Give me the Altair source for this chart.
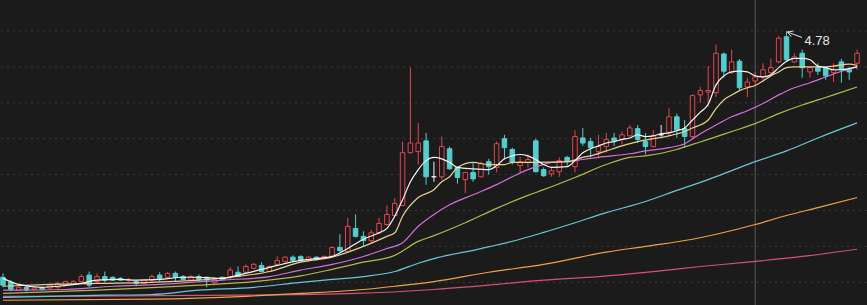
import altair as alt
import pandas as pd

# ---------------- data ----------------
open_ = [1.35, 1.28, 1.17, 1.21, 1.18, 1.20, 1.20, 1.21, 1.24, 1.25,
         1.29, 1.38, 1.29, 1.36, 1.35, 1.335, 1.31, 1.29, 1.265, 1.31,
         1.38, 1.35, 1.405, 1.36, 1.31, 1.36, 1.35, 1.28, 1.35, 1.35,
         1.42, 1.42, 1.475, 1.515, 1.43, 1.53, 1.57, 1.63, 1.64, 1.585,
         1.63, 1.61, 1.64, 1.765, 1.71, 2.03, 1.92, 1.86, 1.97, 2.085,
         2.21, 2.35, 3.085, 3.10, 3.25, 2.75, 2.75, 3.14, 2.88, 2.71,
         2.81, 2.75, 2.96, 2.88, 3.28, 3.13, 2.905, 2.95, 3.25, 2.85,
         2.79, 2.82, 3.02, 2.89, 3.29, 3.24, 3.10, 3.17, 3.29, 3.27,
         3.32, 3.42, 3.24, 3.17, 3.335, 3.37, 3.585, 3.42, 3.31, 3.89,
         3.93, 3.92, 4.46, 4.21, 4.36, 4.00, 4.085, 4.14, 4.20, 4.35,
         4.70, 4.35, 4.47, 4.21, 4.27, 4.27, 4.20, 4.35, 4.24, 4.33]
high = [1.405, 1.31, 1.22, 1.24, 1.21, 1.21, 1.25, 1.29, 1.30, 1.31,
        1.39, 1.43, 1.405, 1.43, 1.36, 1.35, 1.34, 1.31, 1.32, 1.39,
        1.42, 1.42, 1.43, 1.38, 1.38, 1.39, 1.36, 1.35, 1.36, 1.49,
        1.50, 1.53, 1.55, 1.56, 1.515, 1.64, 1.64, 1.655, 1.655, 1.64,
        1.64, 1.655, 1.78, 1.95, 2.18, 2.225, 1.99, 2.01, 2.18, 2.35,
        2.45, 3.24, 4.27, 3.50, 3.36, 2.96, 3.31, 3.17, 2.89, 2.82,
        2.95, 2.96, 3.00, 3.24, 3.335, 3.155, 3.03, 3.06, 3.28, 2.88,
        2.88, 3.02, 3.04, 3.40, 3.43, 3.29, 3.335, 3.36, 3.36, 3.38,
        3.47, 3.47, 3.36, 3.40, 3.47, 3.71, 3.63, 3.54, 3.90, 4.00,
        4.29, 4.59, 4.48, 4.52, 4.39, 4.13, 4.21, 4.33, 4.40, 4.71,
        4.78, 4.47, 4.52, 4.28, 4.33, 4.28, 4.33, 4.39, 4.28, 4.52]
low = [1.21, 1.155, 1.16, 1.15, 1.17, 1.17, 1.19, 1.18, 1.23, 1.24,
       1.28, 1.21, 1.265, 1.28, 1.30, 1.30, 1.29, 1.225, 1.25, 1.28,
       1.29, 1.34, 1.29, 1.31, 1.30, 1.29, 1.21, 1.24, 1.31, 1.32,
       1.35, 1.39, 1.46, 1.42, 1.42, 1.515, 1.56, 1.56, 1.56, 1.57,
       1.585, 1.60, 1.63, 1.70, 1.70, 1.905, 1.78, 1.83, 1.95, 2.07,
       2.20, 2.34, 3.07, 2.92, 2.64, 2.68, 2.71, 2.85, 2.655, 2.52,
       2.68, 2.74, 2.78, 2.81, 2.99, 2.92, 2.81, 2.88, 2.81, 2.75,
       2.75, 2.75, 2.905, 2.81, 3.18, 3.02, 3.02, 3.085, 3.18, 3.20,
       3.31, 3.22, 3.06, 3.16, 3.31, 3.32, 3.29, 3.155, 3.29, 3.78,
       3.72, 3.86, 4.13, 4.18, 3.96, 3.86, 4.03, 4.07, 4.17, 4.33,
       4.35, 4.33, 4.13, 4.13, 4.17, 4.10, 4.07, 4.06, 4.10, 4.24]
close = [1.24, 1.18, 1.21, 1.17, 1.20, 1.18, 1.24, 1.265, 1.29, 1.29,
         1.36, 1.24, 1.36, 1.31, 1.31, 1.31, 1.32, 1.265, 1.31, 1.36,
         1.335, 1.405, 1.35, 1.32, 1.36, 1.32, 1.31, 1.32, 1.32, 1.45,
         1.36, 1.50, 1.53, 1.43, 1.50, 1.585, 1.63, 1.585, 1.585, 1.63,
         1.60, 1.64, 1.765, 1.72, 2.06, 1.92, 1.86, 1.97, 2.10, 2.225,
         2.38, 3.085, 3.22, 3.22, 2.75, 2.75, 3.17, 2.86, 2.74, 2.81,
         2.72, 2.93, 2.89, 3.21, 3.155, 2.95, 2.96, 2.99, 2.82, 2.765,
         2.835, 2.975, 2.96, 3.31, 3.22, 3.155, 3.17, 3.27, 3.25, 3.335,
         3.43, 3.27, 3.17, 3.32, 3.335, 3.585, 3.40, 3.31, 3.88, 3.95,
         3.95, 4.47, 4.22, 4.35, 3.99, 4.07, 4.14, 4.24, 4.27, 4.68,
         4.38, 4.42, 4.27, 4.27, 4.22, 4.155, 4.24, 4.24, 4.21, 4.47]

ma5_i = [0, 2, 5, 7, 10, 12, 15, 17, 20, 23, 25, 28, 30, 33, 35, 38, 40, 42, 44, 46,
         48, 49, 50, 51, 52, 53, 54, 55, 56, 57, 58, 60, 62, 63, 64, 65, 66, 67, 68, 69,
         70, 72, 73, 74, 75, 76, 77, 78, 79, 80, 81, 82, 83, 84, 85, 86, 87, 88, 89, 90,
         91, 92, 93, 94, 95, 96, 97, 98, 99, 100, 101, 102, 103, 104, 105, 106, 107, 108, 109]
ma5_v = [1.335, 1.25, 1.21, 1.225, 1.265, 1.31, 1.32, 1.31, 1.32, 1.35,
         1.35, 1.335, 1.38, 1.46, 1.515, 1.585, 1.61, 1.64, 1.75, 1.88,
         1.97, 2.03, 2.20, 2.43, 2.68, 2.85, 2.975, 3.02, 3.00, 2.95,
         2.88, 2.86, 2.85, 2.905, 3.00, 3.04, 3.06, 3.04, 2.99, 2.92,
         2.88, 2.89, 2.975, 3.085, 3.14, 3.18, 3.22, 3.24, 3.27, 3.29,
         3.335, 3.31, 3.32, 3.35, 3.36, 3.39, 3.43, 3.54, 3.65, 3.76,
         4.03, 4.155, 4.21, 4.22, 4.21, 4.155, 4.14, 4.17, 4.27, 4.36,
         4.40, 4.40, 4.38, 4.29, 4.27, 4.24, 4.24, 4.255, 4.28]

ma10_i = [0, 6, 12, 19, 25, 29, 34, 38, 42, 46, 49, 50, 51, 53, 55, 56, 57, 58, 60, 62,
          64, 65, 68, 72, 74, 75, 77, 79, 81, 83, 85, 87, 88, 90, 91, 92, 93, 94, 95, 96,
          97, 98, 99, 100, 101, 103, 105, 106, 108, 109]
ma10_v = [1.225, 1.25, 1.265, 1.28, 1.31, 1.35, 1.43, 1.56, 1.63, 1.78,
          1.92, 1.97, 2.20, 2.46, 2.57, 2.68, 2.75, 2.88, 2.95, 2.92,
          2.92, 2.95, 2.95, 2.96, 3.02, 3.04, 3.11, 3.18, 3.24, 3.28,
          3.32, 3.38, 3.43, 3.54, 3.70, 3.82, 3.89, 3.95, 3.99, 4.02,
          4.085, 4.155, 4.21, 4.27, 4.28, 4.28, 4.28, 4.29, 4.32, 4.30]

ma20_i = [0, 8, 14, 20, 28, 34, 38, 42, 46, 49, 51, 53, 55, 57, 60, 63, 65, 67, 69, 70,
          72, 74, 76, 80, 82, 85, 87, 89, 91, 93, 95, 97, 99, 101, 103, 105, 107, 109]
ma20_v = [1.17, 1.18, 1.225, 1.25, 1.31, 1.36, 1.45, 1.53, 1.64, 1.75,
          1.83, 2.06, 2.225, 2.36, 2.50, 2.64, 2.75, 2.85, 2.92, 2.95,
          2.96, 2.99, 3.02, 3.07, 3.11, 3.155, 3.21, 3.35, 3.47, 3.585,
          3.67, 3.77, 3.89, 3.99, 4.06, 4.14, 4.22, 4.28]

ma30_i = [0, 12, 25, 32, 38, 42, 46, 50, 53, 55, 59, 63, 67, 69, 73, 77, 80, 82, 86, 88,
          90, 93, 96, 99, 102, 104, 106, 109]
ma30_v = [1.125, 1.17, 1.24, 1.29, 1.37, 1.46, 1.56, 1.655, 1.85, 1.93,
          2.11, 2.31, 2.49, 2.57, 2.74, 2.92, 3.02, 3.04, 3.13, 3.20,
          3.27, 3.38, 3.49, 3.63, 3.75, 3.82, 3.89, 4.00]

ma60_i = [0, 13, 19, 25, 32, 38, 42, 46, 50, 53, 55, 61, 66, 69, 73, 77, 82, 86, 90, 93,
          96, 100, 104, 109]
ma60_v = [1.07, 1.10, 1.11, 1.17, 1.21, 1.28, 1.32, 1.36, 1.43, 1.545,
          1.61, 1.75, 1.88, 1.975, 2.11, 2.25, 2.405, 2.56, 2.71, 2.835,
          2.96, 3.11, 3.29, 3.50]

ma120_i = [0, 19, 31, 38, 46, 50, 55, 62, 69, 77, 82, 88, 96, 100, 104, 109]
ma120_v = [1.03, 1.045, 1.085, 1.125, 1.18, 1.225, 1.29, 1.42, 1.53, 1.70,
           1.78, 1.88, 2.085, 2.21, 2.32, 2.46]

ma250_i = [0, 30, 45, 55, 62, 69, 76, 83, 89, 95, 102, 109]
ma250_v = [1.085, 1.10, 1.125, 1.18, 1.24, 1.31, 1.36, 1.43, 1.50, 1.56, 1.64, 1.74]

grid_levels = [4.78, 4.28, 3.78, 3.28, 2.78, 2.28, 1.78, 1.28]
crosshair_idx = [96]
peak_idx = 100
peak_val = 4.78
peak_label = "4.78"

# ---------------- styling ----------------
W, H = 867, 305
BG = "#1b1b1b"
RED = "#e0474f"
CYAN = "#55cdcd"
WHITE = "#f2f2f2"
X_DOM = [-0.38, 110.27]
Y_DOM = [0.9638, 5.2118]
px_x = W / (X_DOM[1] - X_DOM[0])
px_y = H / (Y_DOM[1] - Y_DOM[0])

xs = alt.Scale(domain=X_DOM, nice=False, zero=False)
ys = alt.Scale(domain=Y_DOM, nice=False, zero=False)

n = len(close)
cdf = pd.DataFrame({"i": list(range(n)), "open": open_, "high": high,
                    "low": low, "close": close})
cdf["dir"] = ["up" if c > o else ("down" if c < o else "flat")
              for o, c in zip(open_, close)]
cdf["xl"] = cdf["i"] - 0.29
cdf["xr"] = cdf["i"] + 0.29

dir_dom = ["up", "down", "flat"]
stroke_scale = alt.Scale(domain=dir_dom, range=[RED, CYAN, WHITE])
fill_scale = alt.Scale(domain=dir_dom, range=[BG, CYAN, WHITE])

grid = alt.Chart(pd.DataFrame({"lvl": grid_levels})).mark_rule(
    color="#3a3a3a", strokeDash=[2, 4], strokeWidth=1
).encode(y=alt.Y("lvl:Q", scale=ys, axis=None))

cross = alt.Chart(pd.DataFrame({"ci": crosshair_idx})).mark_rule(
    color="#5c5c5c", strokeWidth=1
).encode(x=alt.X("ci:Q", scale=xs, axis=None))

wicks = alt.Chart(cdf).mark_rule(strokeWidth=1).encode(
    x=alt.X("i:Q", scale=xs, axis=None),
    y=alt.Y("low:Q", scale=ys, axis=None),
    y2="high:Q",
    stroke=alt.Stroke("dir:N", scale=stroke_scale, legend=None),
)

bodies = alt.Chart(cdf).mark_rect(strokeWidth=1).encode(
    x=alt.X("xl:Q", scale=xs, axis=None),
    x2="xr:Q",
    y=alt.Y("open:Q", scale=ys, axis=None),
    y2="close:Q",
    fill=alt.Fill("dir:N", scale=fill_scale, legend=None),
    stroke=alt.Stroke("dir:N", scale=stroke_scale, legend=None),
)

ma_sets = [("MA250", ma250_i, ma250_v, "#d8507c"),
           ("MA120", ma120_i, ma120_v, "#f0a245"),
           ("MA60", ma60_i, ma60_v, "#6cc6d6"),
           ("MA30", ma30_i, ma30_v, "#b3b84a"),
           ("MA20", ma20_i, ma20_v, "#d46fd6"),
           ("MA10", ma10_i, ma10_v, "#e9d08c"),
           ("MA5", ma5_i, ma5_v, "#f4f4f4")]
ma_layers = []
for name, ii, vv, col in ma_sets:
    d = pd.DataFrame({"i": ii, "v": vv})
    ma_layers.append(
        alt.Chart(d).mark_line(strokeWidth=1.2, interpolate="monotone", color=col)
        .encode(x=alt.X("i:Q", scale=xs, axis=None),
                y=alt.Y("v:Q", scale=ys, axis=None))
    )

# annotation: label + arrow pointing at the highest price
ann = pd.DataFrame({"i": [peak_idx], "v": [peak_val], "t": [peak_label]})
label = alt.Chart(ann).mark_text(
    align="left", baseline="middle", dx=18, dy=10, fontSize=13,
    font="Liberation Sans", color="#e6e6e6"
).encode(x=alt.X("i:Q", scale=xs, axis=None),
         y=alt.Y("v:Q", scale=ys, axis=None), text="t:N")

tip_x = peak_idx + 1.0 / px_x
tip_y = peak_val - 1.0 / px_y
segs = pd.DataFrame({
    "x": [tip_x, tip_x, tip_x],
    "y": [tip_y, tip_y, tip_y],
    "x2": [tip_x + 14.5 / px_x, tip_x + 3.8 / px_x, tip_x + 5.9 / px_x],
    "y2": [tip_y - 5.5 / px_y, tip_y - 4.7 / px_y, tip_y + 1.0 / px_y],
})
arrow = alt.Chart(segs).mark_rule(color="#e6e6e6", strokeWidth=1).encode(
    x=alt.X("x:Q", scale=xs, axis=None), x2="x2:Q",
    y=alt.Y("y:Q", scale=ys, axis=None), y2="y2:Q",
)

chart = alt.layer(grid, cross, wicks, bodies, *ma_layers, arrow, label).properties(
    width=W, height=H, background=BG,
    autosize=alt.AutoSizeParams(type="none"), padding=0,
).configure_view(stroke=None)

chart.save("out.html", embed_options={"renderer": "svg", "actions": False})
